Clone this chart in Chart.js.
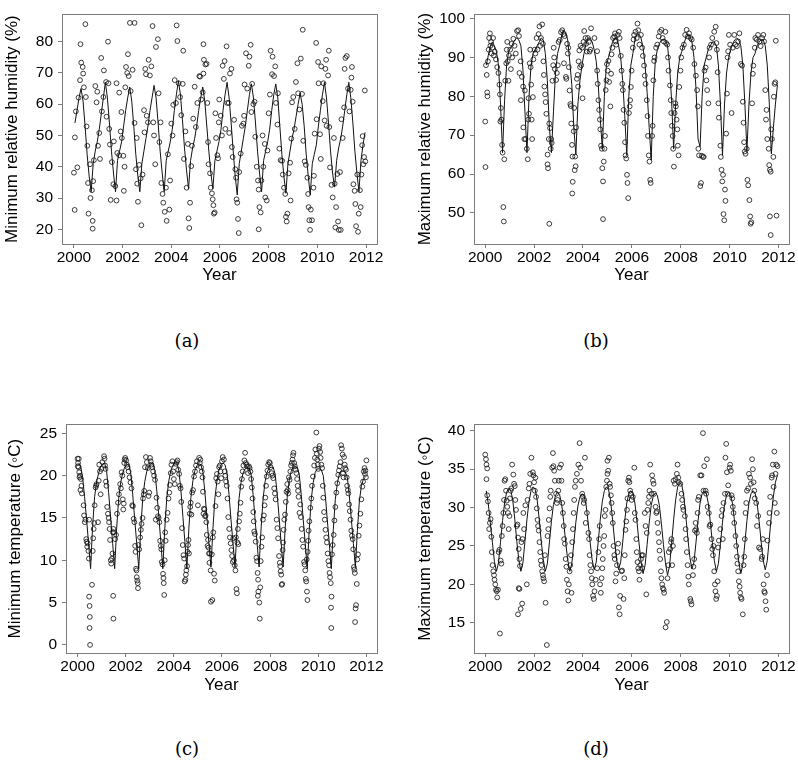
<!DOCTYPE html>
<html>
<head>
<meta charset="utf-8">
<script src="https://cdn.jsdelivr.net/npm/chart.js@4.4.1/dist/chart.umd.min.js"></script>
<style>
  body { margin: 0; background: #fff; width: 798px; height: 763px; position: relative; overflow: hidden; }
  .panel { position: absolute; }
  .cap { position: absolute; font-family: 'DejaVu Serif', serif; font-size: 18px; color: #000; transform: translate(-50%, -50%); }
</style>
</head>
<body>
<div class="panel" style="left:0;top:0"><canvas id="panel-a" width="399" height="300"></canvas></div>
<div class="panel" style="left:399px;top:0"><canvas id="panel-b" width="399" height="300"></canvas></div>
<div class="panel" style="left:0;top:410px"><canvas id="panel-c" width="399" height="300"></canvas></div>
<div class="panel" style="left:399px;top:410px"><canvas id="panel-d" width="399" height="300"></canvas></div>
<div class="cap" style="left:187px;top:340px">(a)</div>
<div class="cap" style="left:596px;top:340px">(b)</div>
<div class="cap" style="left:187px;top:748px">(c)</div>
<div class="cap" style="left:596px;top:748px">(d)</div>
<script>
// tick labels
const yearTicks = [2000, 2002, 2004, 2006, 2008, 2010, 2012];
const minRhTicks = [20, 30, 40, 50, 60, 70, 80];
const maxRhTicks = [50, 60, 70, 80, 90, 100];
const minTempTicks = [0, 5, 10, 15, 20, 25];
const maxTempTicks = [15, 20, 25, 30, 35, 40];

// fitted curves, one row per year 2000..2011, one value per month
const minRhFit = [
  [54, 58, 62, 65, 61, 53, 44, 37, 32, 41, 45, 48],
  [52, 57, 62, 67, 62, 54, 45, 38, 32, 42, 45, 48],
  [53, 58, 62, 65.5, 61, 53, 44, 37, 32, 41, 45, 49],
  [53, 58, 62, 66, 62, 54, 45, 38, 32, 42, 45, 48],
  [52, 58, 63, 67.5, 63, 55, 46, 39, 33, 42, 46, 49],
  [53, 58, 62, 65.5, 61, 53, 45, 38, 33, 42, 45, 48],
  [52, 58, 63, 67, 62, 54, 45, 37, 31, 41, 45, 49],
  [53, 58, 63, 66.5, 62, 54, 45, 38, 32, 42, 45, 48],
  [52, 58, 63, 66.5, 62, 53, 44, 37, 31.5, 41, 45, 49],
  [52, 56, 60, 63.5, 60, 53, 44, 37, 31, 41, 44, 47],
  [53, 58, 63, 67, 62, 54, 45, 38, 33.5, 42, 46, 49],
  [53, 58, 63, 67, 62, 54, 45, 38, 32, 42, 47, 51]
];
const maxRhFit = [
  [88, 90.5, 93, 94, 93, 91.5, 88, 78, 65.5, 79, 88, 91.5],
  [92.5, 93.5, 94.5, 95, 94.5, 93, 87, 76, 65.5, 80, 88, 91],
  [92, 93, 94, 95, 94.5, 91, 84, 72, 65.5, 76, 86, 91],
  [93, 95.5, 97, 96.5, 94.5, 89, 83, 72, 65, 78, 84, 88],
  [91, 93.5, 95, 95, 94, 92, 89, 83, 74, 66.5, 80, 88],
  [90, 92, 94, 95, 95, 93, 90, 84, 75, 64.8, 80, 88],
  [91, 94.5, 96, 96, 95, 92.5, 88, 81, 72, 63.6, 80, 89],
  [92, 93.5, 94.5, 94.6, 94.5, 93, 88, 79, 66.5, 78, 86, 90],
  [91.5, 93.5, 95, 95.8, 95.5, 94, 90, 82, 69, 67, 80, 88],
  [90, 92, 93, 94, 94, 93, 88, 78, 64.8, 78, 86, 90],
  [92, 93.5, 94.5, 95, 94.5, 93, 88, 78, 66, 78, 86, 90],
  [91, 93, 94, 94.5, 94.5, 93, 88, 78, 65.2, 72, 78, 83]
];
const minTempFit = [
  [21.5, 21.2, 19.8, 17.5, 14.8, 12, 9, 14, 17.5, 19.3, 20.3, 21],
  [21.4, 21.5, 20.5, 18, 15, 12, 9, 13.8, 17.3, 19.2, 20.3, 21],
  [21.3, 21.4, 20.3, 17.8, 14.8, 12, 9, 13.7, 17.3, 19.3, 20.5, 21.1],
  [21.4, 21.5, 20.6, 18.2, 15.2, 12.2, 9, 13.8, 17.4, 19.4, 20.6, 21.2],
  [21.5, 21.5, 20.6, 18.3, 15.2, 12.2, 9, 13.8, 17.4, 19.4, 20.6, 21.2],
  [21.4, 21.3, 20.4, 18, 15, 12, 9.2, 13.8, 17.4, 19.4, 20.7, 21.3],
  [21.5, 21.3, 20.3, 17.8, 14.8, 12, 9.2, 13.8, 17.3, 19.2, 20.3, 20.8],
  [20.9, 20.9, 20.2, 17.8, 14.8, 12, 9.2, 13.8, 17.3, 19.3, 20.4, 20.9],
  [21, 21, 20.2, 17.9, 15, 12, 9.2, 13.8, 17.4, 19.4, 20.5, 21],
  [21.1, 21, 20.2, 17.8, 14.8, 12, 9, 13.6, 17.2, 19.2, 20.4, 20.8],
  [20.8, 20.7, 20, 17.7, 14.8, 12, 9, 13.6, 17.2, 19.1, 20.2, 20.6],
  [20.5, 20.4, 19.8, 17.6, 14.8, 12, 9.2, 13.5, 17, 18.8, 19.6, 19.8]
];
const maxTempFit = [
  [32.2, 30.5, 28, 25.5, 23, 21.7, 22.8, 25.5, 28.3, 30.6, 32, 32.5],
  [32.3, 31, 28.5, 25.6, 23.2, 21.7, 22.8, 25.6, 28.5, 30.8, 32.2, 32.7],
  [32.4, 31, 28.5, 25.6, 23.2, 21.7, 22.7, 25.4, 28.2, 30.4, 31.6, 32],
  [31.7, 30.5, 28.2, 25.5, 23.2, 21.7, 22.7, 25.4, 28.1, 30.2, 31.4, 31.8],
  [31.6, 30.4, 28.1, 25.5, 23.2, 21.9, 22.9, 25.6, 28.5, 30.8, 32.2, 32.7],
  [32.4, 31, 28.5, 25.7, 23.3, 21.9, 22.9, 25.5, 28.3, 30.6, 31.8, 32.2],
  [31.9, 30.6, 28.2, 25.4, 23, 21.4, 22.5, 25.2, 28, 30.3, 31.5, 31.9],
  [31.6, 30.3, 27.9, 25.2, 22.8, 21.2, 22.4, 25.3, 28.4, 31, 32.7, 33.3],
  [33, 31.5, 28.9, 26, 23.5, 22, 22.9, 25.5, 28.3, 30.6, 31.8, 32.2],
  [31.9, 30.6, 28.2, 25.5, 23.1, 21.7, 22.7, 25.3, 28.1, 30.4, 31.6, 32],
  [31.7, 30.4, 28, 25.3, 22.9, 21.4, 22.6, 25.4, 28.3, 30.6, 31.8, 32.2],
  [31.9, 30.6, 28.2, 25.5, 23.1, 21.9, 23.1, 26, 29, 31.5, 33.3, 34.2]
];

// observations [decimal year, value]
const minRhObs = [
  [2000.00,38.1],[2000.03,26.2],[2000.04,49.4],[2000.08,57.7],[2000.14,39.8],[2000.19,62.1],[2000.25,67.7],[2000.27,79.2],[2000.30,73.3],[2000.36,71.9],[2000.38,69.8],[2000.41,65.4],[2000.47,85.6],[2000.49,62.3],[2000.52,52.9],[2000.55,46.7],[2000.58,34.8],[2000.60,25.0],[2000.66,40.8],[2000.68,30.0],[2000.74,32.5],[2000.77,22.7],[2000.77,20.2],[2000.79,35.4],[2000.82,42.1],[2000.88,65.8],[2000.93,60.6],[2000.96,64.0],[2000.99,46.7],
  [2001.04,50.8],[2001.07,42.5],[2001.12,74.8],[2001.15,57.7],[2001.21,62.3],[2001.23,70.8],[2001.32,67.1],[2001.34,56.0],[2001.40,80.0],[2001.42,66.7],[2001.45,52.1],[2001.48,47.1],[2001.51,29.4],[2001.56,41.5],[2001.62,34.4],[2001.64,48.1],[2001.70,33.8],[2001.75,29.2],[2001.75,66.7],[2001.78,44.4],[2001.86,43.7],[2001.86,63.7],[2001.92,51.3],[2001.95,57.5],[2001.97,49.2],
  [2002.03,43.5],[2002.05,32.3],[2002.08,40.0],[2002.11,65.4],[2002.14,71.9],[2002.19,70.0],[2002.22,76.0],[2002.25,69.0],[2002.30,86.0],[2002.33,64.2],[2002.41,71.0],[2002.49,86.0],[2002.49,54.0],[2002.55,39.2],[2002.58,49.2],[2002.60,34.6],[2002.63,28.8],[2002.68,40.6],[2002.74,36.3],[2002.77,21.3],[2002.82,37.5],[2002.88,58.1],[2002.90,51.0],[2002.93,71.3],[2002.96,69.6],[2002.99,56.3],
  [2003.04,54.2],[2003.07,74.2],[2003.12,69.2],[2003.18,72.1],[2003.23,85.0],[2003.26,54.2],[2003.29,50.0],[2003.34,40.8],[2003.37,78.3],[2003.45,80.8],[2003.48,63.5],[2003.51,47.9],[2003.56,54.2],[2003.59,34.8],[2003.64,31.3],[2003.67,28.5],[2003.73,25.6],[2003.78,33.3],[2003.81,22.7],[2003.86,44.0],[2003.92,26.3],[2003.95,35.6],
  [2004.00,53.8],[2004.05,50.0],[2004.08,59.8],[2004.14,67.7],[2004.19,60.4],[2004.22,85.2],[2004.25,80.2],[2004.30,66.7],[2004.36,62.3],[2004.41,56.5],[2004.47,66.5],[2004.49,77.1],[2004.52,42.5],[2004.58,51.3],[2004.63,33.3],[2004.68,47.3],[2004.71,23.5],[2004.74,20.4],[2004.77,28.5],[2004.82,40.2],[2004.85,46.7],[2004.90,55.4],[2004.96,65.6],
  [2005.01,52.7],[2005.07,60.4],[2005.15,69.0],[2005.18,68.8],[2005.23,61.5],[2005.29,63.8],[2005.32,79.2],[2005.32,69.8],[2005.34,74.2],[2005.40,72.7],[2005.45,72.9],[2005.48,60.4],[2005.51,47.9],[2005.53,40.8],[2005.59,37.9],[2005.62,33.3],[2005.67,31.5],[2005.70,29.6],[2005.73,27.7],[2005.75,25.0],[2005.78,25.4],[2005.81,57.1],[2005.84,49.2],[2005.89,43.7],[2005.92,42.7],[2005.95,54.2],[2005.97,61.5],
  [2006.03,56.3],[2006.08,50.0],[2006.11,72.3],[2006.16,68.1],[2006.19,73.8],[2006.22,52.1],[2006.27,78.5],[2006.30,60.4],[2006.36,60.4],[2006.38,50.8],[2006.41,69.8],[2006.47,71.3],[2006.49,46.3],[2006.52,43.1],[2006.58,55.0],[2006.63,39.2],[2006.66,36.5],[2006.68,29.6],[2006.71,28.5],[2006.74,23.3],[2006.77,18.8],[2006.79,38.3],[2006.85,44.2],[2006.90,53.1],[2006.96,53.8],[2006.99,56.3],
  [2007.01,66.3],[2007.07,76.3],[2007.12,65.0],[2007.18,72.3],[2007.21,75.2],[2007.26,79.0],[2007.29,57.5],[2007.32,66.5],[2007.37,60.0],[2007.42,60.8],[2007.45,49.6],[2007.51,40.0],[2007.56,35.6],[2007.59,32.7],[2007.59,20.0],[2007.62,27.1],[2007.67,25.4],[2007.70,35.6],[2007.75,50.0],[2007.78,40.0],[2007.84,47.3],[2007.86,30.2],[2007.92,29.2],[2007.95,45.2],
  [2008.00,57.1],[2008.05,63.1],[2008.08,77.1],[2008.14,69.6],[2008.16,75.2],[2008.22,69.0],[2008.27,72.1],[2008.30,60.4],[2008.36,53.5],[2008.38,63.5],[2008.44,45.8],[2008.49,42.1],[2008.55,41.9],[2008.58,37.5],[2008.63,33.3],[2008.68,31.3],[2008.71,24.0],[2008.74,22.5],[2008.77,25.0],[2008.82,37.9],[2008.88,41.3],[2008.90,29.2],[2008.93,49.0],[2008.96,60.6],
  [2009.01,62.3],[2009.07,52.1],[2009.12,67.1],[2009.18,73.1],[2009.21,63.5],[2009.26,58.3],[2009.32,74.6],[2009.37,63.3],[2009.40,83.8],[2009.42,48.3],[2009.48,41.7],[2009.53,40.6],[2009.59,36.5],[2009.62,31.3],[2009.64,27.1],[2009.67,22.9],[2009.70,19.8],[2009.73,26.3],[2009.78,22.9],[2009.84,33.3],[2009.86,37.1],[2009.89,50.6],[2009.95,79.6],[2009.97,55.2],
  [2010.03,73.5],[2010.05,66.7],[2010.11,50.4],[2010.14,42.5],[2010.16,72.1],[2010.22,61.0],[2010.25,66.7],[2010.30,54.8],[2010.33,71.3],[2010.36,74.2],[2010.38,53.1],[2010.44,69.2],[2010.47,77.1],[2010.49,52.7],[2010.52,39.8],[2010.58,34.2],[2010.63,30.2],[2010.68,49.2],[2010.71,34.6],[2010.74,20.6],[2010.77,27.1],[2010.82,37.7],[2010.85,22.5],[2010.88,19.8],[2010.93,38.3],[2010.96,19.8],[2010.99,55.2],
  [2011.04,49.2],[2011.10,59.0],[2011.12,71.3],[2011.15,74.8],[2011.21,75.4],[2011.26,65.0],[2011.32,57.7],[2011.37,64.6],[2011.40,68.5],[2011.42,71.9],[2011.45,60.8],[2011.48,34.4],[2011.53,32.3],[2011.56,28.1],[2011.59,21.0],[2011.64,37.5],[2011.67,19.2],[2011.70,25.0],[2011.75,32.5],[2011.78,27.1],[2011.81,37.5],[2011.84,46.9],[2011.86,49.8],[2011.89,40.8],[2011.92,43.1],[2011.95,64.4],[2011.97,41.7]
];
const maxRhObs = [
  [2000.00,73.5],[2000.01,61.8],[2000.03,88],[2000.06,85.5],[2000.08,81],[2000.09,80],[2000.11,89],[2000.14,92],[2000.16,95],[2000.19,96.2],[2000.21,93],[2000.24,94],[2000.26,91],[2000.29,92.5],[2000.32,95],[2000.35,90.5],[2000.39,91.5],[2000.44,89.5],[2000.49,87.5],[2000.54,86],[2000.58,83],[2000.60,80.5],[2000.62,73.5],[2000.64,77],[2000.66,74],[2000.69,67.5],[2000.71,65.5],[2000.74,51.5],[2000.76,47.8],[2000.78,63.8],[2000.82,84],[2000.86,88.5],[2000.88,92],[2000.90,94],[2000.92,89],[2000.95,84],[2000.97,90.5],
  [2001.02,92],[2001.05,87],[2001.08,93.5],[2001.10,90],[2001.15,94.8],[2001.20,93],[2001.25,91],[2001.30,96.8],[2001.35,97],[2001.38,95.5],[2001.40,86],[2001.45,89],[2001.46,79],[2001.50,85],[2001.55,82.5],[2001.56,72],[2001.60,69],[2001.62,81.5],[2001.65,69],[2001.70,66.5],[2001.74,63.8],[2001.76,74],[2001.77,79.5],[2001.79,75.5],[2001.82,88.5],[2001.84,92],[2001.86,87.5],[2001.88,83],[2001.90,74],[2001.92,69],[2001.95,79.8],[2001.97,89.5],
  [2002.02,92],[2002.05,91],[2002.10,95],[2002.14,92],[2002.18,96],[2002.22,98],[2002.25,93],[2002.28,95],[2002.33,98.5],[2002.36,93.5],[2002.38,89],[2002.40,85.5],[2002.42,82.5],[2002.45,80.5],[2002.47,78.5],[2002.50,75.5],[2002.55,65],[2002.55,62.5],[2002.57,61.5],[2002.60,69],[2002.62,73],[2002.62,47.2],[2002.65,71.8],[2002.68,66.5],[2002.70,69],[2002.72,68],[2002.75,84],[2002.78,88],[2002.80,92.5],[2002.82,90],[2002.85,87],[2002.90,84.2],[2002.93,86],[2002.97,88],
  [2003.00,94],[2003.05,94.5],[2003.10,96.5],[2003.15,97],[2003.20,96],[2003.22,88.5],[2003.25,95.5],[2003.30,85],[2003.32,84.5],[2003.35,93.5],[2003.38,91],[2003.40,92.5],[2003.42,87.5],[2003.45,81.5],[2003.48,78],[2003.50,77.5],[2003.52,73],[2003.55,67.5],[2003.56,55],[2003.57,64.5],[2003.58,58],[2003.62,71],[2003.64,77],[2003.66,61],[2003.68,64.5],[2003.70,62],[2003.72,72],[2003.75,84.5],[2003.78,85.5],[2003.80,82.5],[2003.82,89],[2003.85,91.8],[2003.88,87.5],[2003.90,93],[2003.93,88],[2003.96,92.5],[2003.98,79.5],
  [2004.02,94],[2004.05,96.8],[2004.10,95],[2004.13,93.5],[2004.16,91.5],[2004.20,95],[2004.24,94],[2004.27,91.5],[2004.30,92],[2004.33,97.5],[2004.47,95],[2004.58,91.6],[2004.58,86.6],[2004.60,83.2],[2004.63,79],[2004.66,76.5],[2004.69,74],[2004.71,71.5],[2004.74,67.3],[2004.77,66.5],[2004.79,61.5],[2004.82,58.1],[2004.82,48.4],[2004.85,63.2],[2004.88,66.5],[2004.90,69.8],[2004.93,81.6],[2004.96,84.1],[2004.98,88.3],
  [2005.01,86.6],[2005.04,89.1],[2005.07,83.7],[2005.12,77.4],[2005.15,85.8],[2005.17,90.8],[2005.20,92.5],[2005.23,95],[2005.28,95.4],[2005.31,96.2],[2005.34,94.1],[2005.36,93.3],[2005.42,95.8],[2005.47,96.6],[2005.50,95],[2005.55,90.4],[2005.58,86.6],[2005.61,83.2],[2005.63,81.6],[2005.66,76.5],[2005.69,73.2],[2005.72,68.2],[2005.74,64.8],[2005.77,64],[2005.80,59.8],[2005.82,57.7],[2005.85,53.8],[2005.88,75.7],[2005.91,77.4],[2005.93,79],[2005.96,82.4],[2005.99,86.6],
  [2006.04,92.5],[2006.07,94.6],[2006.09,95.8],[2006.15,96.6],[2006.20,95],[2006.23,98.7],[2006.26,97],[2006.31,93.3],[2006.37,95.8],[2006.42,92.5],[2006.45,90.4],[2006.50,87.9],[2006.53,85.3],[2006.56,83.2],[2006.61,79],[2006.64,74.9],[2006.66,69.8],[2006.69,64.8],[2006.72,63.2],[2006.75,58.5],[2006.77,57.7],[2006.83,69.8],[2006.85,72.4],[2006.88,84.1],[2006.91,89.1],[2006.93,90],[2006.99,92.5],
  [2007.04,93.3],[2007.10,95.4],[2007.15,96.6],[2007.21,97.1],[2007.26,95],[2007.31,94.1],[2007.37,96.6],[2007.40,93.7],[2007.45,93.3],[2007.48,90],[2007.50,86.6],[2007.56,82.8],[2007.59,79],[2007.61,75.7],[2007.64,72.4],[2007.67,69.8],[2007.69,66.5],[2007.72,61.9],[2007.75,75.7],[2007.78,78.2],[2007.80,77.4],[2007.83,74],[2007.86,71.5],[2007.88,67.3],[2007.91,64.8],[2007.94,82.4],[2007.99,86.6],
  [2008.02,90],[2008.07,92.5],[2008.13,93.3],[2008.18,95.8],[2008.24,97.1],[2008.29,95.4],[2008.34,96.2],[2008.40,95],[2008.45,94.6],[2008.51,92.5],[2008.56,88.3],[2008.62,85.3],[2008.67,81.6],[2008.70,77.4],[2008.72,66.5],[2008.75,64.8],[2008.80,56.9],[2008.83,57.7],[2008.86,64.7],[2008.91,64.4],[2008.94,64.4],[2008.97,86.6],
  [2009.02,87.4],[2009.05,84.1],[2009.08,81.6],[2009.13,78.2],[2009.16,90],[2009.18,92.5],[2009.24,93.3],[2009.29,95],[2009.37,96.6],[2009.43,97.9],[2009.46,93.7],[2009.48,92],[2009.51,86.2],[2009.54,78.2],[2009.56,74.5],[2009.62,67.3],[2009.64,64.4],[2009.67,61.1],[2009.70,58.1],[2009.73,59.8],[2009.75,49.7],[2009.78,48.1],[2009.81,56],[2009.83,53.1],[2009.86,70.4],[2009.89,80.7],[2009.92,90],[2009.94,91.6],[2009.97,95.8],
  [2010.02,93.3],[2010.08,75.7],[2010.13,92.5],[2010.19,95.8],[2010.24,93.3],[2010.30,92.9],[2010.35,94.1],[2010.40,96.2],[2010.46,88.3],[2010.51,87.9],[2010.54,78.6],[2010.57,73.2],[2010.59,68.2],[2010.62,65.8],[2010.65,65.2],[2010.70,66.5],[2010.73,58.5],[2010.76,57.1],[2010.81,53.3],[2010.84,49.1],[2010.86,47.2],[2010.89,47.6],[2010.92,78.2],[2010.95,85.8],[2010.97,87.9],
  [2011.03,92.5],[2011.05,95],[2011.11,94.6],[2011.16,95.8],[2011.22,94.1],[2011.27,92.9],[2011.33,95],[2011.38,95.8],[2011.41,94.1],[2011.46,81.6],[2011.49,74],[2011.51,76.5],[2011.54,69],[2011.60,66.5],[2011.62,62.3],[2011.65,61.1],[2011.65,49.1],[2011.68,44.3],[2011.68,60.6],[2011.70,71.5],[2011.73,69],[2011.79,64.4],[2011.81,79.9],[2011.84,83.2],[2011.87,83.6],[2011.89,94.3],[2011.92,49.3]
];
const minTempObs = [
  [2000.00,22],[2000.01,21.1],[2000.02,21.5],[2000.04,21],[2000.05,22],[2000.07,20.4],[2000.08,19.8],[2000.10,20],[2000.12,18.3],[2000.14,19.6],[2000.16,18.8],[2000.18,17.9],[2000.25,16.5],[2000.27,15.3],[2000.30,14.5],[2000.33,14.8],[2000.36,12.5],[2000.38,12.2],[2000.40,11.6],[2000.42,12],[2000.45,11.1],[2000.47,10.2],[2000.48,14.8],[2000.48,5.7],[2000.50,4.6],[2000.51,3.3],[2000.50,2.0],[2000.52,0],[2000.60,7.1],[2000.63,11.1],[2000.65,12.6],[2000.67,13.7],[2000.69,14.4],[2000.71,16.5],[2000.75,18.6],[2000.77,18.8],[2000.79,19],[2000.85,14.5],[2000.88,19.4],[2000.90,21.3],[2000.93,20.5],[2000.96,17.8],[2000.99,20.8],
  [2001.03,21.6],[2001.10,22.3],[2001.12,22],[2001.14,21.2],[2001.16,20.8],[2001.18,19.3],[2001.20,18.8],[2001.23,16.3],[2001.26,15.5],[2001.29,15],[2001.31,14.5],[2001.33,13.7],[2001.35,12.4],[2001.38,10],[2001.40,9.6],[2001.43,10.2],[2001.45,10.8],[2001.47,13.3],[2001.49,13.7],[2001.50,13.3],[2001.48,5.8],[2001.49,3.1],[2001.56,12.5],[2001.60,13],[2001.64,15.5],[2001.68,16.8],[2001.72,17.8],[2001.77,19],[2001.80,18.5],[2001.83,20.4],[2001.86,20],[2001.88,17.2],[2001.90,16],[2001.92,16.7],[2001.94,21.5],[2001.96,21.9],
  [2001.98,22.1],[2002.02,21.8],[2002.05,21.3],[2002.08,21],[2002.12,20.5],[2002.16,19.8],[2002.20,19.2],[2002.24,18.5],[2002.27,16.5],[2002.30,16.4],[2002.33,14.9],[2002.36,14.5],[2002.39,11.7],[2002.41,11],[2002.43,9],[2002.45,8.8],[2002.46,8],[2002.48,7.6],[2002.50,7.3],[2002.51,6.7],[2002.53,11.8],[2002.56,11.3],[2002.60,12.7],[2002.63,13.6],[2002.66,14.3],[2002.70,15],[2002.72,17.3],[2002.75,17.8],[2002.77,18.2],[2002.80,21],[2002.84,22.2],[2002.88,21.6],[2002.92,20.9],[2002.95,17.6],[2002.98,18],
  [2003.01,22.1],[2003.04,21.7],[2003.07,21.3],[2003.10,21],[2003.14,20.5],[2003.18,20],[2003.22,19.5],[2003.25,14.8],[2003.28,17.4],[2003.31,16.2],[2003.34,15.2],[2003.37,15],[2003.40,14.5],[2003.43,12.3],[2003.46,11.7],[2003.48,11.3],[2003.50,9.8],[2003.53,9.5],[2003.55,8.4],[2003.57,7.9],[2003.58,7.3],[2003.60,5.9],[2003.62,10],[2003.64,13.3],[2003.66,12.3],[2003.70,14.8],[2003.74,15.6],[2003.78,17.3],[2003.81,18],[2003.84,18.9],[2003.87,20.3],[2003.90,21.3],[2003.94,21.7],[2003.97,20.5],[2004.00,19.6],[2004.04,19],
  [2004.09,21.4],[2004.12,21.6],[2004.15,21.8],[2004.18,20.7],[2004.22,20.2],[2004.25,18.8],[2004.28,18.5],[2004.31,16.9],[2004.34,13.8],[2004.37,11.8],[2004.40,10.6],[2004.43,10.2],[2004.45,7.5],[2004.48,7.7],[2004.50,8.3],[2004.52,8.8],[2004.55,9.3],[2004.57,11],[2004.59,11.8],[2004.61,12.4],[2004.63,10.8],[2004.66,15.5],[2004.68,16.3],[2004.70,16.8],[2004.73,15.4],[2004.76,18],[2004.80,18.3],[2004.84,19.9],[2004.88,20.5],[2004.92,21.2],[2004.96,21.7],[2005.00,16.5],
  [2005.05,22.1],[2005.08,21.5],[2005.10,21.9],[2005.13,21],[2005.16,20.5],[2005.19,19.8],[2005.21,18.1],[2005.23,15.5],[2005.25,16.1],[2005.27,16],[2005.30,15.2],[2005.32,15.3],[2005.35,14.5],[2005.37,13],[2005.40,11.7],[2005.42,12.4],[2005.44,11.5],[2005.46,10.8],[2005.48,9.7],[2005.50,10.8],[2005.53,8.8],[2005.54,5.1],[2005.60,5.3],[2005.58,10.7],[2005.62,12.7],[2005.64,13.3],[2005.67,8.4],[2005.70,7.6],[2005.73,16.4],[2005.76,19.7],[2005.79,20.2],[2005.82,19.3],[2005.85,17.8],[2005.88,21],[2005.91,21.2],[2005.94,20.5],[2005.97,19.7],[2006.00,21.7],[2006.03,22.2],
  [2006.08,21.9],[2006.11,20.5],[2006.14,20],[2006.17,19.3],[2006.20,18.8],[2006.23,17.3],[2006.26,15.1],[2006.30,13.7],[2006.33,12.7],[2006.36,12],[2006.39,11.2],[2006.42,10.5],[2006.45,9.8],[2006.47,12.6],[2006.50,10],[2006.53,9.4],[2006.56,8.8],[2006.60,6.6],[2006.62,6.1],[2006.58,12.7],[2006.64,12.1],[2006.66,13.7],[2006.68,11.9],[2006.71,14.6],[2006.74,15.5],[2006.77,16.8],[2006.80,18.7],[2006.83,19.6],[2006.86,20.5],[2006.89,21.2],
  [2006.93,21.8],[2006.96,22.7],[2006.99,21.5],[2007.02,21.3],[2007.05,21.1],[2007.08,20.3],[2007.12,21.1],[2007.15,20.9],[2007.18,20.5],[2007.21,19.6],[2007.24,18.6],[2007.27,17.3],[2007.30,15.7],[2007.32,14.6],[2007.34,13.4],[2007.37,13.1],[2007.40,12.2],[2007.43,10.3],[2007.46,9.9],[2007.48,8.5],[2007.50,7.7],[2007.49,5.8],[2007.51,6.3],[2007.57,3.1],[2007.55,5],[2007.59,6.8],[2007.61,9.9],[2007.64,11.6],[2007.67,12.7],[2007.70,14.8],[2007.74,15.3],[2007.77,16.5],[2007.80,17.4],[2007.83,18.8],[2007.86,19.9],[2007.89,20.6],[2007.92,21.3],
  [2007.96,21.6],[2007.99,21.5],[2008.02,21],[2008.06,20.3],[2008.10,20],[2008.13,19.7],[2008.17,18.5],[2008.20,17.9],[2008.23,17.2],[2008.27,14.8],[2008.30,13.8],[2008.33,12.6],[2008.37,10.5],[2008.40,9.7],[2008.42,9.3],[2008.44,8.7],[2008.46,8.3],[2008.48,7.1],[2008.50,7.2],[2008.52,11.2],[2008.54,12.1],[2008.56,13.6],[2008.59,14.8],[2008.62,15.4],[2008.65,16.9],[2008.68,18.1],[2008.71,19],[2008.73,18.3],[2008.75,17.9],[2008.78,19.8],[2008.81,19.5],[2008.84,20.5],[2008.87,21.2],[2008.90,21.5],[2008.93,21.9],[2008.95,22.4],[2008.97,22.7],
  [2009.00,21.5],[2009.03,21.1],[2009.06,20.7],[2009.09,20.3],[2009.12,19.6],[2009.14,18.8],[2009.16,18.2],[2009.18,17.5],[2009.22,15.6],[2009.25,16.6],[2009.28,15.1],[2009.31,13.7],[2009.34,12.4],[2009.37,11.6],[2009.41,9.8],[2009.43,9.5],[2009.46,8.8],[2009.48,7.8],[2009.50,7.5],[2009.53,6.3],[2009.55,5.3],[2009.52,10.1],[2009.56,11],[2009.58,12.3],[2009.60,13.5],[2009.63,14.6],[2009.67,16.2],[2009.71,17.3],[2009.74,18.8],[2009.78,19.9],[2009.83,21.2],[2009.86,22.1],[2009.88,23.1],[2009.92,25.1],[2009.94,22.6],[2009.96,21.9],[2009.98,21.3],[2010.00,20.8],
  [2010.03,23.2],[2010.05,23.5],[2010.08,22.8],[2010.10,22.1],[2010.13,21.3],[2010.16,20.9],[2010.19,18.8],[2010.21,17.4],[2010.24,15.7],[2010.27,14.8],[2010.30,13.6],[2010.33,12.7],[2010.36,12.1],[2010.39,10.8],[2010.42,9.9],[2010.45,9.4],[2010.47,8.5],[2010.49,8],[2010.52,7.3],[2010.55,5.7],[2010.53,4.4],[2010.54,2],[2010.57,10.7],[2010.60,11.8],[2010.64,13],[2010.67,14.7],[2010.71,16.3],[2010.75,18],[2010.79,19.1],[2010.83,20.1],[2010.86,20.6],[2010.89,21.1],[2010.92,21.6],[2010.95,23.6],[2010.98,23.2],[2011.01,22.5],[2011.03,20.3],[2011.05,19.8],
  [2011.07,22.2],[2011.10,21.3],[2011.12,20.9],[2011.15,20.7],[2011.18,19.8],[2011.20,18.8],[2011.23,18.3],[2011.25,17.9],[2011.28,16.6],[2011.31,15.8],[2011.34,14.8],[2011.37,13.5],[2011.40,12.9],[2011.43,12.5],[2011.45,11.3],[2011.48,9.2],[2011.50,8.9],[2011.52,8.5],[2011.53,2.7],[2011.55,4.3],[2011.57,4.7],[2011.60,7.2],[2011.62,10.1],[2011.65,10.7],[2011.68,12.9],[2011.71,14.1],[2011.75,15.5],[2011.79,17.2],[2011.83,18.7],[2011.86,19.3],[2011.89,20.5],[2011.92,20.9],[2011.94,20.2],[2011.96,20.6],[2011.98,19.8],[2012.00,21.8]
];
const maxTempObs = [
  [2000.00,36.9],[2000.03,36.3],[2000.05,35.6],[2000.08,35.1],[2000.05,33.7],[2000.08,31.6],[2000.11,30.8],[2000.14,29.3],[2000.16,27.2],[2000.19,28],[2000.22,28.5],[2000.25,26.2],[2000.27,24.2],[2000.30,22.5],[2000.33,21.7],[2000.36,21.2],[2000.38,20.6],[2000.41,20],[2000.44,19.3],[2000.47,19.1],[2000.49,18.3],[2000.52,19.3],[2000.55,24.2],[2000.58,24.5],[2000.60,13.6],[2000.63,23.1],[2000.66,22.7],[2000.68,26.3],[2000.71,27.6],[2000.74,29.3],[2000.77,31],[2000.79,33.5],[2000.82,33.7],[2000.85,32.2],[2000.88,30.9],[2000.90,30.1],[2000.93,29.3],[2000.96,27.2],[2000.99,28.9],
  [2001.01,31.2],[2001.04,32.2],[2001.07,32.5],[2001.10,35.6],[2001.15,34.3],[2001.18,33.1],[2001.21,32.8],[2001.23,31],[2001.26,29.7],[2001.29,27.6],[2001.32,27.8],[2001.34,26.1],[2001.37,24.6],[2001.40,23.3],[2001.42,22.4],[2001.37,19.5],[2001.40,19.4],[2001.34,16.1],[2001.45,16.8],[2001.51,17.5],[2001.48,25.5],[2001.53,25.9],[2001.59,27.2],[2001.56,29.3],[2001.64,30.3],[2001.70,20],[2001.73,31],[2001.78,32.5],[2001.81,33.1],[2001.84,34.4],[2001.89,36.5],[2001.95,34.6],[2001.97,34.2],
  [2002.00,33.3],[2002.03,32.2],[2002.05,33.9],[2002.08,31.4],[2002.11,29.9],[2002.14,28.4],[2002.16,27.6],[2002.19,27],[2002.22,25.5],[2002.25,24.2],[2002.27,23.1],[2002.30,22.5],[2002.33,21.7],[2002.36,21.2],[2002.38,20.8],[2002.41,20.4],[2002.44,23.8],[2002.47,17.6],[2002.52,12.1],[2002.55,26.3],[2002.58,27.2],[2002.60,28.4],[2002.63,29.9],[2002.66,31.4],[2002.68,32.2],[2002.74,35.2],[2002.77,37.1],[2002.79,35.4],[2002.82,34.8],[2002.85,33.5],[2002.90,31.8],[2002.93,30.6],[2002.96,31],[2002.99,32.2],
  [2003.01,33.5],[2003.04,35.2],[2003.10,35.6],[2003.12,33.5],[2003.15,30.6],[2003.18,29.3],[2003.21,27.6],[2003.23,25.9],[2003.26,25.3],[2003.29,23.3],[2003.32,22.3],[2003.34,20.6],[2003.37,19.1],[2003.40,17.9],[2003.42,20],[2003.45,21.7],[2003.48,22.5],[2003.51,23.8],[2003.53,18.9],[2003.56,25.5],[2003.59,27.2],[2003.62,29.3],[2003.64,31],[2003.67,32.7],[2003.70,33.5],[2003.75,34.4],[2003.81,35.6],[2003.86,38.4],[2003.89,35.2],[2003.92,33.5],[2003.97,31.8],
  [2004.00,31.4],[2004.03,30.6],[2004.05,31],[2004.08,36.5],[2004.11,28],[2004.16,29.3],[2004.22,26.7],[2004.25,25.9],[2004.27,23.8],[2004.30,22.5],[2004.33,21.7],[2004.36,20.8],[2004.38,20],[2004.41,18.5],[2004.44,18.1],[2004.47,19.1],[2004.52,20.6],[2004.58,22.1],[2004.63,24.2],[2004.66,25.9],[2004.68,27.6],[2004.70,20],[2004.73,18.9],[2004.76,20.8],[2004.79,22.1],[2004.81,23.3],[2004.84,25],[2004.87,26.3],[2004.89,28.9],[2004.92,29.7],[2004.95,32.7],[2004.98,33.5],
  [2005.00,34.4],[2005.03,34.8],[2005.06,36.5],[2005.00,36.1],[2005.09,33.1],[2005.11,32.7],[2005.14,31.6],[2005.17,30.6],[2005.20,29.3],[2005.22,28],[2005.25,25],[2005.28,23.8],[2005.30,23.3],[2005.33,20.4],[2005.36,21.4],[2005.39,22.5],[2005.41,24.2],[2005.44,25.3],[2005.47,17],[2005.50,16.1],[2005.52,18.5],[2005.58,21.7],[2005.60,21.8],[2005.66,18.1],[2005.69,20.8],[2005.71,23.8],[2005.74,27.1],[2005.77,28.2],[2005.80,29.7],[2005.82,31.2],[2005.85,33.5],[2005.88,33.9],[2005.90,33.3],[2005.93,32.2],[2005.96,31.8],[2005.99,31],
  [2006.04,31.4],[2006.10,35.2],[2006.12,29.3],[2006.15,28.4],[2006.18,25.9],[2006.20,24.2],[2006.23,22.9],[2006.26,22.1],[2006.29,21.7],[2006.31,20.6],[2006.34,22.5],[2006.37,23.3],[2006.40,23.8],[2006.42,22.1],[2006.45,23.8],[2006.53,29.3],[2006.56,27.6],[2006.59,18.7],[2006.61,26.7],[2006.64,29.7],[2006.67,30.6],[2006.70,31.4],[2006.72,32.2],[2006.75,35.6],[2006.80,31.8],[2006.83,34.2],[2006.86,33.5],[2006.89,33.1],[2006.91,31.8],[2006.97,30.1],
  [2007.00,29.3],[2007.02,29.5],[2007.05,28],[2007.08,26.7],[2007.11,25.5],[2007.13,24.4],[2007.16,23.3],[2007.19,21.7],[2007.21,20.8],[2007.24,20],[2007.27,19.5],[2007.30,19.3],[2007.32,18.9],[2007.38,14.4],[2007.43,15.1],[2007.46,20.8],[2007.49,22.5],[2007.51,24.2],[2007.57,24.6],[2007.60,25.5],[2007.62,25.9],[2007.65,22.5],[2007.68,25],[2007.71,33.5],[2007.76,33.1],[2007.79,33.7],[2007.84,34.4],[2007.87,35.6],[2007.90,33.9],[2007.92,33.3],[2007.98,33.1],
  [2008.03,31.8],[2008.06,31],[2008.09,30.1],[2008.11,29.7],[2008.17,28.9],[2008.20,27.2],[2008.22,25.9],[2008.25,24.2],[2008.28,22.5],[2008.31,21],[2008.33,20],[2008.39,18.1],[2008.41,17.8],[2008.44,17.4],[2008.50,21.2],[2008.52,22.3],[2008.55,23.3],[2008.58,27],[2008.61,28],[2008.63,27.2],[2008.66,26.7],[2008.69,29.3],[2008.71,31],[2008.74,31.4],[2008.80,34.2],[2008.85,34.2],[2008.91,39.7],[2008.93,32.2],[2008.96,35.4],
  [2009.02,32.2],[2009.04,31.8],[2009.07,36.3],[2009.10,30.1],[2009.15,29.3],[2009.18,27.6],[2009.21,27.8],[2009.26,25.9],[2009.29,24.6],[2009.32,23.8],[2009.34,25],[2009.37,21.7],[2009.40,20],[2009.42,19.1],[2009.45,18.1],[2009.48,18.5],[2009.51,20.4],[2009.53,24.8],[2009.56,25.7],[2009.62,27.2],[2009.67,28.9],[2009.70,29.7],[2009.72,25.9],[2009.75,30.6],[2009.81,31.8],[2009.83,36.5],[2009.86,38.3],[2009.89,34.6],[2009.92,31.8],[2009.94,32.9],
  [2010.00,35.2],[2010.02,35.6],[2010.05,34.8],[2010.08,31.6],[2010.11,31.2],[2010.13,30.1],[2010.16,29.3],[2010.19,28],[2010.24,26.3],[2010.27,25],[2010.30,23.6],[2010.32,22.7],[2010.35,21.7],[2010.38,20.4],[2010.41,19.7],[2010.43,18.9],[2010.46,18.3],[2010.49,18.1],[2010.54,16.1],[2010.57,22.5],[2010.60,23.6],[2010.62,25.9],[2010.65,29.3],[2010.68,30.6],[2010.71,32.2],[2010.76,32.5],[2010.79,34.4],[2010.84,33.9],[2010.87,33.1],[2010.92,36.3],[2010.95,35],[2010.98,33.3],
  [2011.01,32.2],[2011.03,31.2],[2011.09,30.6],[2011.12,27.6],[2011.17,28.9],[2011.20,24.8],[2011.25,24.6],[2011.31,23.3],[2011.33,23.6],[2011.36,25.9],[2011.39,20],[2011.42,19.1],[2011.44,18.9],[2011.47,17.8],[2011.50,16.7],[2011.53,21.2],[2011.55,25.7],[2011.61,28],[2011.63,29.3],[2011.66,31.4],[2011.72,33.9],[2011.74,34.2],[2011.77,35.6],[2011.80,32.7],[2011.83,37.3],[2011.85,30.6],[2011.88,34.4],[2011.91,35.6],[2011.93,29.3],[2011.96,35.4]
];

function fitPoints(rows) {
  return rows.flatMap((row, i) => row.map((v, m) => ({ x: 2000 + i + (m + 0.5) / 12, y: v })));
}

const boxPlugin = {
  id: 'rbox',
  afterDatasetsDraw(chart) {
    const { ctx, chartArea } = chart;
    ctx.save();
    ctx.strokeStyle = '#7c7c7c';
    ctx.lineWidth = 1;
    ctx.strokeRect(Math.round(chartArea.left) + 0.5, Math.round(chartArea.top) + 0.5,
      Math.round(chartArea.right - chartArea.left), Math.round(chartArea.bottom - chartArea.top));
    ctx.restore();
  }
};

function makePanel(id, opts) {
  const canvas = document.getElementById(id);
  const W = canvas.width, H = canvas.height;
  const gridStyle = { drawOnChartArea: false, drawTicks: true, tickLength: 4, color: '#7c7c7c', lineWidth: 1 };
  return new Chart(canvas, {
    type: 'scatter',
    data: {
      datasets: [
        {
          type: 'line',
          data: fitPoints(opts.fit),
          borderColor: '#111',
          borderWidth: 1,
          pointRadius: 0,
          tension: 0,
          fill: false,
        },
        {
          data: opts.obs.map(([x, y]) => ({ x, y })),
          pointStyle: 'circle',
          pointRadius: 2.4,
          borderColor: '#1a1a1a',
          borderWidth: 0.85,
          backgroundColor: 'rgba(0,0,0,0)',
        },
      ],
    },
    plugins: [boxPlugin],
    options: {
      responsive: false,
      animation: false,
      devicePixelRatio: 1,
      layout: {
        padding: { left: 0, top: opts.box.top, right: W - opts.box.right, bottom: 0 },
      },
      plugins: { legend: { display: false }, tooltip: { enabled: false } },
      scales: {
        x: {
          type: 'linear',
          min: opts.xMin,
          max: opts.xMax,
          afterBuildTicks: (scale) => { scale.ticks = yearTicks.map((v) => ({ value: v })); },
          afterFit: (scale) => { scale.height = H - opts.box.bottom; },
          grid: gridStyle,
          border: { display: false },
          ticks: {
            color: '#000',
            padding: 0,
            maxRotation: 0,
            autoSkip: false,
            font: { family: 'Liberation Sans, Arial, sans-serif', size: 15.5, lineHeight: 1.2 },
            callback: (v) => String(v),
          },
          title: {
            display: true,
            text: 'Year',
            color: '#000',
            padding: { top: 0, bottom: 14 },
            font: { family: 'Liberation Sans, Arial, sans-serif', size: 17, lineHeight: 1.2 },
          },
        },
        y: {
          type: 'linear',
          min: opts.yMin,
          max: opts.yMax,
          afterBuildTicks: (scale) => { scale.ticks = opts.yTicks.map((v) => ({ value: v })); },
          afterFit: (scale) => { scale.width = opts.box.left; },
          grid: gridStyle,
          border: { display: false },
          ticks: {
            color: '#000',
            padding: 5,
            autoSkip: false,
            font: { family: 'Liberation Sans, Arial, sans-serif', size: 15.5, lineHeight: 1.2 },
            callback: (v) => String(v),
          },
          title: {
            display: true,
            text: opts.title,
            color: '#000',
            padding: { top: opts.titleX - 10.2, bottom: 0 },
            font: { family: 'Liberation Sans, Arial, sans-serif', size: 17, lineHeight: 1.2 },
          },
        },
      },
    },
  });
}

makePanel('panel-a', {
  fit: minRhFit, obs: minRhObs, yTicks: minRhTicks, title: 'Minimum relative humidity (%)',
  box: { left: 62, top: 9, right: 377, bottom: 244 }, titleX: 12,
  xMin: 1999.51, xMax: 2012.45, yMin: 15.3, yMax: 88.75,
});
makePanel('panel-b', {
  fit: maxRhFit, obs: maxRhObs, yTicks: maxRhTicks, title: 'Maximum relative humidity (%)',
  box: { left: 75, top: 9, right: 390, bottom: 244 }, titleX: 26,
  xMin: 1999.54, xMax: 2012.43, yMin: 42.0, yMax: 101.1,
});
makePanel('panel-c', {
  fit: minTempFit, obs: minTempObs, yTicks: minTempTicks, title: 'Minimum temperature (\u25E6C)',
  box: { left: 66, top: 9, right: 377, bottom: 243 }, titleX: 15,
  xMin: 1999.52, xMax: 2012.44, yMin: -0.96, yMax: 26.07,
});
makePanel('panel-d', {
  fit: maxTempFit, obs: maxTempObs, yTicks: maxTempTicks, title: 'Maximum temperature (\u25E6C)',
  box: { left: 75, top: 9, right: 390, bottom: 243 }, titleX: 26,
  xMin: 1999.54, xMax: 2012.43, yMin: 11.06, yMax: 40.85,
});
</script>
</body>
</html>
